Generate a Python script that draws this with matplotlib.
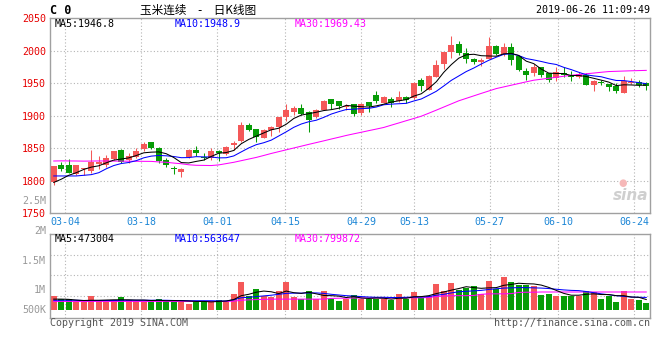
import numpy as np
import matplotlib
matplotlib.use("Agg")
import matplotlib.pyplot as plt

# ---- data (C0, daily, 2019-02-28 .. 2019-06-26) ----
opens = [1797, 1824, 1824, 1810, 1817, 1814, 1826, 1824, 1833, 1847,
         1831, 1836, 1849, 1859, 1850, 1832, 1820, 1813, 1836, 1847,
         1836, 1835, 1846, 1841, 1854, 1861, 1886, 1880, 1866, 1878,
         1882, 1898, 1905, 1911, 1905, 1897, 1909, 1926, 1923, 1913,
         1917, 1904, 1921, 1931, 1920, 1926, 1922, 1928, 1927, 1955,
         1940, 1960, 1979, 1998, 2010, 1996, 1987, 1983, 1987, 2007,
         1995, 2006, 1991, 1969, 1965, 1974, 1965, 1957, 1965, 1963,
         1960, 1962, 1947, 1952, 1948, 1945, 1935, 1950, 1952, 1950]
highs = [1823, 1828, 1833, 1824, 1820, 1847, 1837, 1840, 1846, 1848,
         1842, 1850, 1859, 1859, 1852, 1835, 1822, 1819, 1848, 1853,
         1843, 1850, 1847, 1853, 1861, 1890, 1888, 1880, 1879, 1884,
         1898, 1917, 1915, 1918, 1907, 1910, 1924, 1926, 1923, 1917,
         1918, 1920, 1921, 1938, 1930, 1928, 1938, 1930, 1951, 1957,
         1962, 1986, 1997, 2022, 2014, 2004, 1988, 1988, 2021, 2008,
         2011, 2011, 1991, 1973, 1980, 1974, 1965, 1974, 1974, 1968,
         1967, 1965, 1955, 1955, 1948, 1950, 1961, 1958, 1955, 1952]
lows = [1793, 1815, 1812, 1808, 1809, 1812, 1818, 1821, 1832, 1827,
        1827, 1834, 1845, 1848, 1827, 1821, 1810, 1805, 1834, 1838,
        1831, 1832, 1830, 1840, 1847, 1860, 1876, 1859, 1865, 1868,
        1875, 1891, 1901, 1901, 1874, 1896, 1909, 1910, 1910, 1909,
        1899, 1901, 1906, 1920, 1919, 1913, 1921, 1920, 1926, 1938,
        1939, 1960, 1971, 1988, 1993, 1981, 1980, 1976, 1987, 1993,
        1992, 1978, 1968, 1954, 1961, 1960, 1951, 1953, 1960, 1953,
        1957, 1947, 1938, 1947, 1938, 1935, 1935, 1948, 1944, 1939]
closes = [1822, 1818, 1812, 1824, 1820, 1829, 1828, 1835, 1845, 1828,
          1838, 1846, 1856, 1850, 1830, 1824, 1817, 1817, 1847, 1842,
          1834, 1845, 1842, 1852, 1858, 1886, 1878, 1867, 1877, 1882,
          1898, 1909, 1911, 1903, 1893, 1909, 1922, 1918, 1914, 1915,
          1903, 1918, 1915, 1923, 1928, 1919, 1928, 1924, 1950, 1946,
          1961, 1978, 1997, 2009, 1996, 1987, 1982, 1986, 2007, 1994,
          2005, 1986, 1970, 1963, 1975, 1963, 1955, 1967, 1963, 1959,
          1964, 1947, 1953, 1950, 1944, 1937, 1953, 1952, 1947, 1945]

ma5 = [1797, 1802, 1808, 1812, 1817, 1820.6, 1822.6, 1827.2, 1831.4, 1833.0,
       1834.8, 1838.4, 1842.6, 1843.6, 1844.0, 1841.2, 1835.4, 1827.6, 1827.0, 1829.4,
       1831.4, 1837.0, 1842.0, 1843.0, 1846.2, 1856.6, 1863.2, 1868.2, 1873.2, 1878.0,
       1880.4, 1886.6, 1895.4, 1900.6, 1902.8, 1905.0, 1907.6, 1909.0, 1911.2, 1915.6,
       1914.4, 1913.6, 1913.0, 1914.8, 1917.4, 1920.6, 1922.6, 1924.4, 1929.8, 1933.4,
       1941.8, 1951.8, 1966.4, 1978.2, 1988.2, 1993.4, 1994.2, 1992.0, 1991.6, 1991.2,
       1994.8, 1995.6, 1992.4, 1983.6, 1979.8, 1971.4, 1965.2, 1964.6, 1964.6, 1961.4,
       1961.6, 1960.0, 1957.2, 1954.4, 1951.4, 1946.0, 1947.2, 1947.0, 1946.4, 1946.8]
ma10 = [1807, 1807, 1807, 1807, 1808, 1809, 1812, 1818, 1823, 1826.1,
        1827.7, 1830.5, 1834.9, 1837.5, 1838.5, 1838.0, 1836.9, 1835.1, 1835.3, 1836.7,
        1836.3, 1836.2, 1834.8, 1835.0, 1837.8, 1844.0, 1850.1, 1855.1, 1858.1, 1862.1,
        1868.5, 1874.9, 1881.8, 1886.9, 1890.4, 1892.7, 1897.1, 1902.2, 1905.9, 1909.2,
        1909.7, 1910.6, 1911.0, 1913.0, 1916.5, 1917.5, 1918.1, 1918.7, 1922.3, 1925.4,
        1931.2, 1937.2, 1945.4, 1954.0, 1960.8, 1967.6, 1973.0, 1979.2, 1984.9, 1989.7,
        1994.1, 1994.9, 1992.2, 1987.6, 1985.5, 1983.1, 1980.4, 1978.5, 1974.1, 1970.6,
        1966.5, 1962.6, 1960.9, 1959.6, 1956.5, 1953.9, 1953.7, 1952.2, 1950.6, 1948.9]
ma30 = [1830.0, 1830.2, 1830.1, 1830.0, 1829.8, 1829.9, 1830.1, 1830.0, 1829.9, 1829.8,
        1829.7, 1829.6, 1829.5, 1829.4, 1828.6, 1828.0, 1826.8, 1825.8, 1824.2, 1823.4,
        1823.2, 1823.0, 1824.0, 1826.0, 1828.0, 1830.5, 1833.0, 1835.5, 1838.5, 1841.6,
        1844.4, 1847.2, 1850.0, 1852.8, 1855.6, 1858.3, 1861.0, 1863.8, 1866.5, 1869.3,
        1871.8, 1874.2, 1876.7, 1879.1, 1881.6, 1885.1, 1888.5, 1892.0, 1895.4, 1898.9,
        1903.5, 1908.2, 1913.0, 1917.8, 1922.6, 1926.4, 1930.2, 1934.0, 1937.7, 1941.4,
        1944.0, 1946.6, 1949.2, 1951.8, 1954.3, 1955.8, 1957.3, 1958.8, 1960.4, 1961.9,
        1963.0, 1964.2, 1965.3, 1966.5, 1967.6, 1968.0, 1968.4, 1968.8, 1969.1, 1969.43]

volumes = [610000, 510000, 490000, 350000, 350000, 640000, 460000, 350000, 460000, 590000,
           460000, 390000, 350000, 390000, 510000, 420000, 460000, 350000, 290000, 420000,
           420000, 350000, 460000, 420000, 720000, 1250000, 640000, 940000, 640000, 580000,
           830000, 1220000, 580000, 490000, 830000, 490000, 860000, 510000, 420000, 510000,
           680000, 510000, 490000, 490000, 490000, 460000, 720000, 490000, 810000, 540000,
           640000, 1160000, 860000, 1200000, 900000, 970000, 1040000, 720000, 1290000, 930000,
           1460000, 1250000, 1120000, 1090000, 1040000, 680000, 720000, 640000, 640000, 640000,
           640000, 860000, 810000, 510000, 640000, 380000, 860000, 490000, 460000, 330000]
vol_ma5 = [0.49, 0.49, 0.48, 0.45, 0.43, 0.44, 0.44, 0.45, 0.46, 0.46,
           0.46, 0.45, 0.45, 0.43, 0.44, 0.42, 0.43, 0.42, 0.41, 0.39,
           0.39, 0.37, 0.39, 0.41, 0.47, 0.64, 0.70, 0.79, 0.84, 0.81,
           0.73, 0.84, 0.77, 0.74, 0.79, 0.72, 0.65, 0.64, 0.62, 0.56,
           0.60, 0.54, 0.52, 0.54, 0.53, 0.49, 0.53, 0.53, 0.59, 0.60,
           0.64, 0.73, 0.80, 0.88, 0.95, 1.03, 0.99, 0.96, 0.98, 0.99,
           1.09, 1.13, 1.18, 1.16, 1.15, 1.10, 1.00, 0.87, 0.74, 0.66,
           0.66, 0.70, 0.72, 0.69, 0.69, 0.64, 0.64, 0.58, 0.57, 0.473]
vol_ma10 = [0.44, 0.44, 0.44, 0.44, 0.43, 0.43, 0.43, 0.43, 0.43, 0.44,
            0.44, 0.44, 0.44, 0.44, 0.44, 0.44, 0.43, 0.43, 0.42, 0.42,
            0.42, 0.42, 0.41, 0.41, 0.46, 0.55, 0.57, 0.60, 0.63, 0.66,
            0.70, 0.74, 0.75, 0.75, 0.76, 0.76, 0.74, 0.70, 0.67, 0.64,
            0.62, 0.60, 0.58, 0.57, 0.57, 0.56, 0.56, 0.57, 0.58, 0.58,
            0.60, 0.66, 0.70, 0.76, 0.81, 0.83, 0.85, 0.87, 0.91, 0.94,
            0.97, 0.98, 0.99, 0.99, 0.98, 0.97, 0.95, 0.92, 0.89, 0.87,
            0.86, 0.82, 0.77, 0.72, 0.68, 0.64, 0.61, 0.58, 0.57, 0.564]
vol_ma30 = [0.39, 0.39, 0.39, 0.39, 0.39, 0.39, 0.39, 0.39, 0.39, 0.39,
            0.39, 0.39, 0.39, 0.39, 0.39, 0.39, 0.39, 0.39, 0.39, 0.39,
            0.39, 0.39, 0.39, 0.39, 0.40, 0.44, 0.46, 0.47, 0.48, 0.49,
            0.49, 0.49, 0.49, 0.49, 0.49, 0.49, 0.49, 0.52, 0.53, 0.53,
            0.54, 0.54, 0.54, 0.54, 0.54, 0.54, 0.55, 0.55, 0.55, 0.55,
            0.56, 0.60, 0.63, 0.64, 0.64, 0.64, 0.65, 0.70, 0.72, 0.72,
            0.72, 0.73, 0.78, 0.79, 0.79, 0.80, 0.80, 0.80, 0.80, 0.80,
            0.80, 0.80, 0.80, 0.80, 0.80, 0.80, 0.80, 0.80, 0.80, 0.7999]

tick_idx = [2, 12, 22, 31, 41, 48, 58, 67, 77]
tick_labels = ["03-04", "03-18", "04-01", "04-15", "04-29", "05-13", "05-27", "06-10", "06-24"]
price_ticks = [1750, 1800, 1850, 1900, 1950, 2000, 2050]

# ---- styles ----
RED, GREEN = "#f45858", "#079c07"
GRID = "#b4b4b4"
FRAME = "#a0a0a0"
MONO = "DejaVu Sans Mono"
W, H = 660, 360
LW = 0.75

x = np.arange(len(closes))
o, c = np.array(opens), np.array(closes)
up = c >= o
cols = [RED if u else GREEN for u in up]
# sina's grid sits on a slightly wider step than the candles
tick_pos = [d * 1.011 - 0.49 for d in tick_idx]

fig = plt.figure(figsize=(W / 100, H / 100), dpi=100)
ax = fig.add_axes([50 / W, 1 - 213 / H, 600 / W, 195 / H])
axv = fig.add_axes([50 / W, 1 - 318 / H, 600 / W, 84 / H])


def frame(a):
    for s in a.spines.values():
        s.set_color(FRAME)
        s.set_linewidth(1)
    a.set_xlim(-0.5, len(closes) - 0.5)
    a.set_xticks(tick_pos)
    a.tick_params(length=0)
    for p in tick_pos:
        a.axvline(p, color=GRID, lw=0.8, ls=(0, (1, 2)), zorder=0)


# ---- candles ----
frame(ax)
ax.set_ylim(1750, 2050)
ax.set_yticks(price_ticks)
ax.set_yticklabels([str(v) for v in price_ticks], color="#e60000", family=MONO, fontsize=7.2)
ax.set_xticklabels(tick_labels, color="#1c86d6", family=MONO, fontsize=7.2)
ax.tick_params(axis="y", pad=3)
ax.tick_params(axis="x", pad=3)
for v in price_ticks[1:-1]:
    ax.axhline(v, color=GRID, lw=0.8, ls=(0, (1, 2)), zorder=0)

ax.vlines(x, lows, highs, colors=cols, lw=LW, zorder=2)
body = np.maximum(np.abs(c - o), 0.8)
ax.bar(x, body, bottom=np.minimum(o, c), width=0.8, color=cols, zorder=3)
ax.plot(x, ma30, color="#ff00ff", lw=LW, zorder=4)
ax.plot(x, ma10, color="#0000ff", lw=LW, zorder=4)
ax.plot(x, ma5, color="#000000", lw=LW, zorder=4)

ax.text(-4 / 600, 1769, "2.5M", transform=ax.get_yaxis_transform(), ha="right", va="center",
        color="#999999", family=MONO, fontsize=7.2)
ax.text(0.997, 0.09, "sina", transform=ax.transAxes, ha="right", va="center",
        color="#cfcfcf", fontsize=11, fontstyle="italic", fontweight="bold")
ax.text(0.955, 0.155, "●", transform=ax.transAxes, ha="center", va="center",
        color="#f6b8b8", fontsize=7)

# ---- volume ----
frame(axv)
axv.set_xticklabels([])
axv.set_yticks([])
axv.set_ylim(-330000, 3320000)
for v in [640000, 1540000, 2420000]:
    axv.axhline(v, color=GRID, lw=0.8, ls=(0, (1, 2)), zorder=0)
for lab, v in [("2M", 3460000), ("1.5M", 2160000), ("1M", 900000), ("500K", 30000)]:
    axv.text(-4 / 600, v, lab, transform=axv.get_yaxis_transform(), ha="right", va="center",
             color="#999999", family=MONO, fontsize=7.2, clip_on=False)
axv.bar(x, volumes, width=0.8, color=cols, zorder=2)
axv.plot(x, np.array(vol_ma30) * 1e6, color="#ff00ff", lw=LW, zorder=3)
axv.plot(x, np.array(vol_ma10) * 1e6, color="#0000ff", lw=LW, zorder=3)
axv.plot(x, np.array(vol_ma5) * 1e6, color="#000000", lw=LW, zorder=3)


def ftext(px, py, s, **kw):
    kw.setdefault("family", MONO)
    kw.setdefault("fontsize", 7.2)
    kw.setdefault("va", "center")
    fig.text(px / W, 1 - py / H, s, **kw)


ftext(50, 10, "C 0", fontsize=8.5, fontweight="bold")
ftext(140, 10, "玉米连续\u3000-\u3000日K线图", family=["Noto Sans CJK SC", "DejaVu Sans"], fontsize=8.4)
ftext(650, 10, "2019-06-26 11:09:49", ha="right")

ftext(55, 24, "MA5:%.1f" % ma5[-1], color="#000000")
ftext(175, 24, "MA10:%.1f" % ma10[-1], color="#0000ff")
ftext(295, 24, "MA30:%.2f" % ma30[-1], color="#ff00ff")

ftext(55, 238.5, "MA5:473004", color="#000000")
ftext(175, 238.5, "MA10:563647", color="#0000ff")
ftext(295, 238.5, "MA30:799872", color="#ff00ff")

ftext(50, 323.5, "Copyright 2019 SINA.COM", color="#555555")
ftext(650, 323.5, "http://finance.sina.com.cn", color="#555555", ha="right")

fig.savefig("out.png", dpi=100, facecolor="white")
